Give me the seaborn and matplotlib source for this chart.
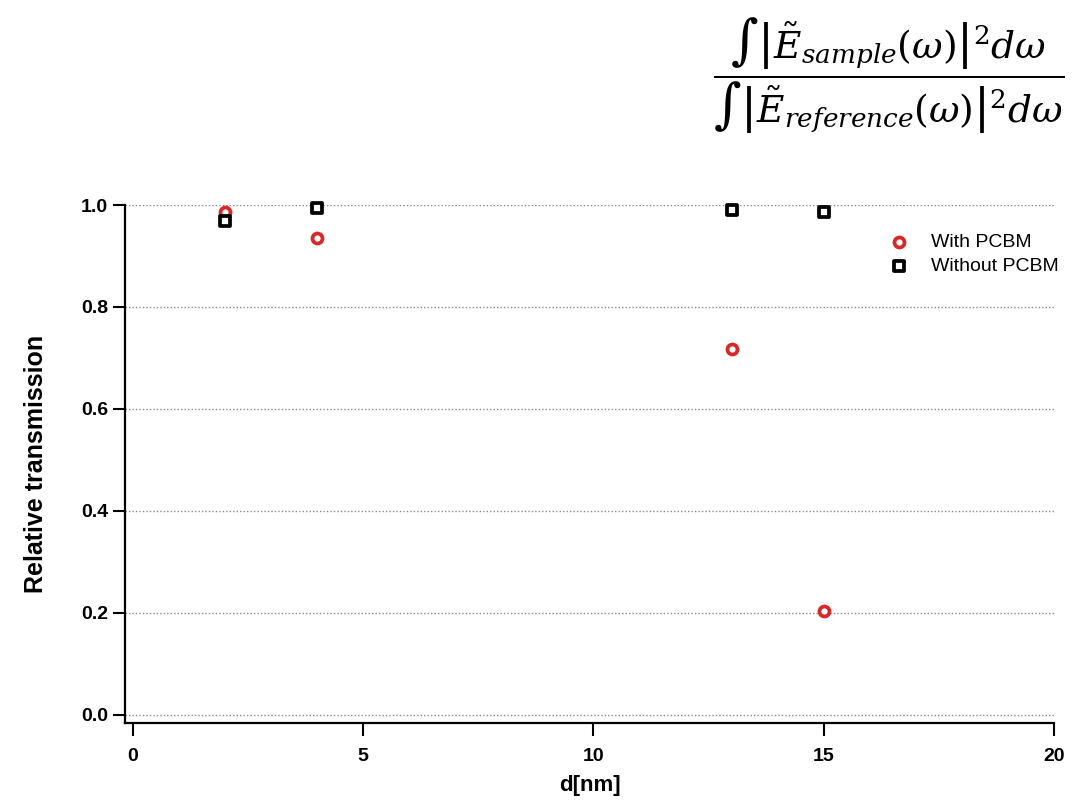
import numpy as np
import pandas as pd
import matplotlib
matplotlib.use('Agg')
import matplotlib.pyplot as plt
import seaborn as sns

# data
d_nm = [2, 4, 13, 15]
with_pcbm = [0.986, 0.935, 0.718, 0.203]
without_pcbm = [0.969, 0.994, 0.990, 0.986]

x_ticks = [0, 5, 10, 15, 20]
y_ticks = [0.0, 0.2, 0.4, 0.6, 0.8, 1.0]

sns.set_style('white')
plt.rcParams['font.family'] = ['Liberation Sans', 'DejaVu Sans']
plt.rcParams['mathtext.fontset'] = 'dejavuserif'
plt.rcParams['text.color'] = 'black'
plt.rcParams['axes.labelcolor'] = 'black'

fig = plt.figure(figsize=(10.86, 8.0), dpi=100)
ax = fig.add_axes([0.1151, 0.09625, 0.8554, 0.6475])

df_with = pd.DataFrame({'d': d_nm, 'T': with_pcbm})
df_without = pd.DataFrame({'d': d_nm, 'T': without_pcbm})

red = '#d42a2a'
sns.scatterplot(data=df_with, x='d', y='T', ax=ax, marker='o', s=52,
                color='white', edgecolor=red, linewidth=2.7,
                label='With PCBM', clip_on=False, zorder=3)
sns.scatterplot(data=df_without, x='d', y='T', ax=ax, marker='s', s=52,
                color='white', edgecolor='black', linewidth=2.7,
                label='Without PCBM', clip_on=False, zorder=4)

ax.set_xlim(-0.17, 20)
ax.set_ylim(-0.016, 1.0)
ax.set_xticks(x_ticks)
ax.set_yticks(y_ticks)
ax.set_yticklabels([f'{v:.1f}' for v in y_ticks])

for v in y_ticks:
    ax.axhline(v, color='#8a8a8a', lw=1.0, ls=(0, (1, 1.5)), zorder=1)

for s in ['top', 'right']:
    ax.spines[s].set_visible(False)
for s in ['left', 'bottom']:
    ax.spines[s].set_linewidth(1.6)
    ax.spines[s].set_color('black')

ax.tick_params(axis='both', direction='out', width=1.5, colors='black',
               labelsize=14, bottom=True, left=True)
ax.tick_params(axis='y', length=9, pad=3)
ax.tick_params(axis='x', length=9, pad=9)
for lab in ax.get_xticklabels() + ax.get_yticklabels():
    lab.set_fontweight('bold')

ax.set_xlabel('d[nm]', fontsize=16, fontweight='bold', labelpad=7)
ax.set_ylabel('Relative transmission', fontsize=18, fontweight='bold', labelpad=24)

ax.legend(loc='upper left', bbox_to_anchor=(880 / 1086, 1 - 233 / 800),
          bbox_transform=fig.transFigure, frameon=False, fontsize=14,
          borderpad=0, borderaxespad=0, handletextpad=0.6, labelspacing=0.35)

fig.text(0.818, 0.905,
         r'$\dfrac{\int\left|\tilde{E}_{sample}(\omega)\right|^{2}d\omega}'
         r'{\int\left|\tilde{E}_{reference}(\omega)\right|^{2}d\omega}$',
         ha='center', va='center', fontsize=27)

fig.savefig('out.png', dpi=100)
